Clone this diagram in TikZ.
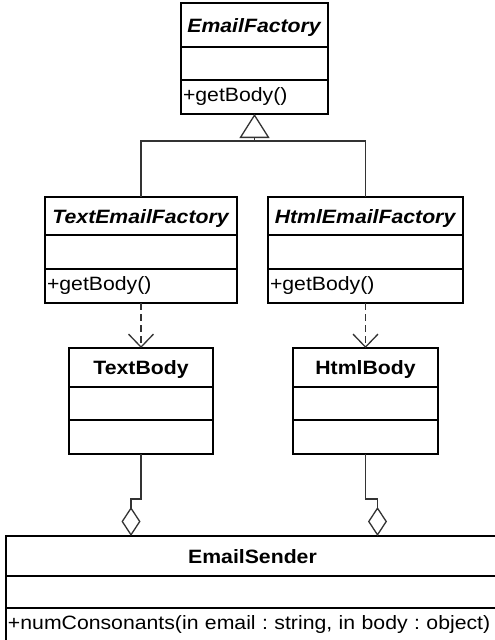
\documentclass[tikz,border=0pt]{standalone}
\usepackage{fontspec}
\setmainfont{Liberation Sans}[FakeStretch=1.1]
\usepackage{tikz}
\usetikzlibrary{arrows.meta}

\newcommand\umlsize{\fontsize{19.3pt}{23pt}\selectfont\frenchspacing}

\tikzset{
  box/.style={draw, line width=1.8pt, inner sep=0pt, outer sep=0pt},
  hdr/.style={box, minimum width=#1, font=\umlsize\bfseries, text height=14pt, text depth=0pt},
  cmp/.style={box, minimum width=#1},
  ops/.style={box, text width=#1, inner xsep=2pt, align=left, text height=12pt, text depth=4pt},
  conn/.style={draw=black!80, line width=1.3pt},
}

\begin{document}
\begin{tikzpicture}[x=1pt, y=-1pt, font=\umlsize]
	\useasboundingbox (0,0) rectangle (495,640);
	\clip (0,0) rectangle (495,640);
	\fill[white] (0,0) rectangle (495,640);
	% abstract factory
	\node (efh) [hdr=147pt, minimum height=44pt] at (254.5,25) {\textit{EmailFactory}};
	\node (efa) [cmp=147pt, minimum height=33pt, anchor=north] at (efh.south) {};
	\node (efo) [ops=143pt, minimum height=34pt, anchor=north] at (efa.south) {+getBody()};
	% concrete factories
	\node (tefh) [hdr=192pt, minimum height=38pt] at (141,216) {\textit{TextEmailFactory}};
	\node (tefa) [cmp=192pt, minimum height=34pt, anchor=north] at (tefh.south) {};
	\node (tefo) [ops=188pt, minimum height=34pt, anchor=north] at (tefa.south) {+getBody()};
	\node (hefh) [hdr=195pt, minimum height=38pt] at (365.5,216) {\textit{HtmlEmailFactory}};
	\node (hefa) [cmp=195pt, minimum height=34pt, anchor=north] at (hefh.south) {};
	\node (hefo) [ops=191pt, minimum height=34pt, anchor=north] at (hefa.south) {+getBody()};
	% products
	\node (tbh) [hdr=144pt, minimum height=39pt] at (141,367.5) {TextBody};
	\node (tba) [cmp=144pt, minimum height=33pt, anchor=north] at (tbh.south) {};
	\node (tbo) [cmp=144pt, minimum height=34pt, anchor=north] at (tba.south) {};
	\node (hbh) [hdr=145pt, minimum height=39pt] at (365.5,367.5) {HtmlBody};
	\node (hba) [cmp=145pt, minimum height=33pt, anchor=north] at (hbh.south) {};
	\node (hbo) [cmp=145pt, minimum height=34pt, anchor=north] at (hba.south) {};
	% client
	\node (esh) [hdr=493pt, minimum height=40pt] at (252.5,556) {EmailSender};
	\node (esa) [cmp=493pt, minimum height=32pt, anchor=north] at (esh.south) {};
	\node (eso) [ops=489pt, minimum height=34pt, anchor=north] at (esa.south) {+numConsonants(in email : string, in body : object)};

	\coordinate (fork) at (254.5,141);
	\coordinate (tbagg) at (131,536);
	\coordinate (hbagg) at (377.5,536);
	\draw[conn] (tefh.north) |- (fork) -| (hefh.north);
	\draw[conn, -{Triangle[open, length=24pt, width=30pt]}] (fork) -- (efo.south);
	\draw[conn, dash pattern=on 7pt off 4pt, -{Straight Barb[length=13pt, width=25pt]}] (tefo.south) -- (tbh.north);
	\draw[conn, dash pattern=on 7pt off 4pt, -{Straight Barb[length=13pt, width=25pt]}] (hefo.south) -- (hbh.north);
	\draw[conn, -{Diamond[open, length=29pt, width=19pt]}] (tbo.south) -- ++(0,45) -| (tbagg);
	\draw[conn, -{Diamond[open, length=29pt, width=19pt]}] (hbo.south) -- ++(0,45) -| (hbagg);
\end{tikzpicture}
\end{document}
